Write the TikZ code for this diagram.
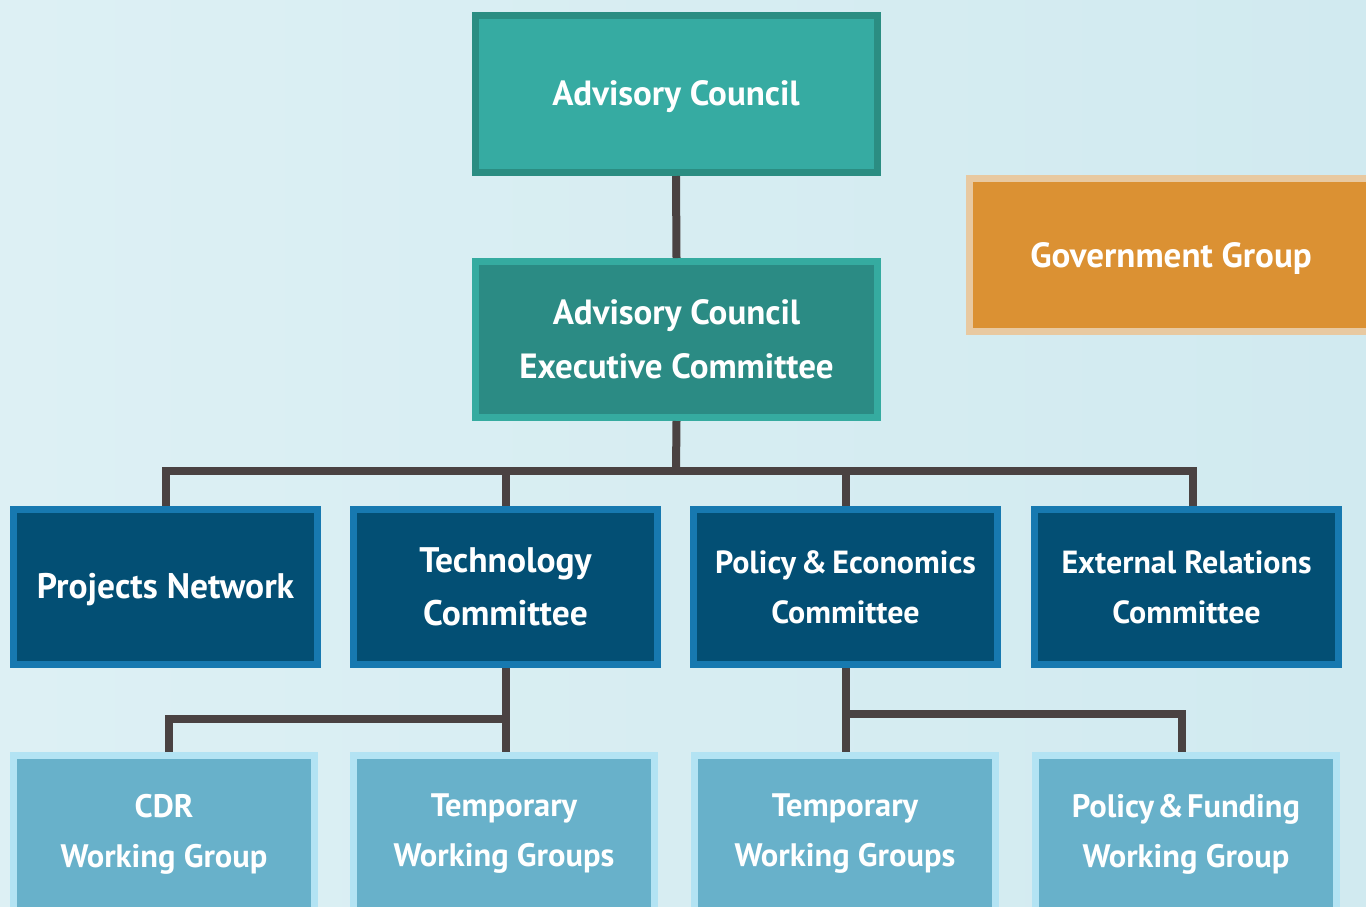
\documentclass[tikz,border=0pt]{standalone}
\usepackage{fontspec}
\setmainfont{PT Sans}
\usetikzlibrary{calc}
\definecolor{bgA}{HTML}{DDF0F4}
\definecolor{bgB}{HTML}{D1EAF0}
\definecolor{acBorder}{HTML}{2B8D82}
\definecolor{acFill}{HTML}{36ABA2}
\definecolor{ecBorder}{HTML}{35ABA0}
\definecolor{ecFill}{HTML}{2B8B84}
\definecolor{dkBorder}{HTML}{1779B0}
\definecolor{dkFill}{HTML}{034F74}
\definecolor{ltBorder}{HTML}{B3E3F3}
\definecolor{ltFill}{HTML}{68B1CA}
\definecolor{govBorder}{HTML}{E8C9A1}
\definecolor{govFill}{HTML}{DB9133}
\definecolor{connCol}{HTML}{4A4242}
\newcommand{\lowr}[1]{\raisebox{-3pt}[\height][\depth]{#1}}
\begin{document}
\begin{tikzpicture}[x=1pt,y=-1pt,
  box/.style={rectangle, line width=7pt, align=center, text=white, inner sep=0pt,
    font=\bfseries\fontsize{35}{54}\selectfont},
  acbox/.style={box, draw=acBorder, fill=acFill, minimum width=402pt, minimum height=157pt},
  ecbox/.style={box, draw=ecBorder, fill=ecFill, minimum width=402pt, minimum height=156pt},
  dkbox/.style={box, draw=dkBorder, fill=dkFill, minimum width=304pt, minimum height=155pt,
    font=\bfseries\fontsize{35.5}{53}\selectfont},
  dksmall/.style={font=\bfseries\fontsize{32}{50}\selectfont},
  ltbox/.style={box, draw=ltBorder, fill=ltFill, minimum width=301pt, minimum height=157pt,
    font=\bfseries\fontsize{32.5}{50}\selectfont},
  govbox/.style={box, draw=govBorder, fill=govFill, minimum width=403pt, minimum height=153pt},
  conn/.style={draw=connCol, line width=8pt}
]
\useasboundingbox (0,0) rectangle (1366,906);
\clip (0,0) rectangle (1366,906);
\shade[left color=bgA, right color=bgB] (0,0) rectangle (1366,906);

% nodes
\node[acbox] (ac) at (676,94) {\lowr{Advisory Council}};
\node[ecbox] (ec) at (676.5,339.5) {Advisory Council\\Executive Committee};
\node[govbox] (gov) at (1171,255) {\lowr{Government Group}};

\node[dkbox] (pn) at (165.5,587) {\lowr{Projects Network}};
\node[dkbox] (tc) at (505.5,587) {Technology\\Committee};
\node[dkbox, dksmall] (pe) at (845.5,587) {Policy \hspace{-3pt}\& \hspace{-3pt}Economics\\Committee};
\node[dkbox, dksmall] (er) at (1186.5,587) {External Relations\\Committee};

\node[ltbox] (cdr) at (164,834) {CDR\\Working Group};
\node[ltbox] (t1) at (504,834) {Temporary\\Working Groups};
\node[ltbox] (t2) at (845,834) {Temporary\\Working Groups};
\node[ltbox] (pf) at (1186,834) {Policy \hspace{-5pt}\& \hspace{-5pt}Funding\\Working Group};

% connectors
\coordinate (bus) at (676,471);
\coordinate (tj) at (505.5,719);
\coordinate (pj) at (845.5,714);
\draw[conn] (ac.south) -- (ec.north);
\draw[conn] (ec.south) -- (bus);
\draw[conn] (pn.north) |- (bus) -| ([xshift=6pt]er.north);
\draw[conn] (tc.north) -- (tc.north |- bus);
\draw[conn] (pe.north) -- (pe.north |- bus);
\draw[conn] (tc.south) -- (tc.south |- t1.north);
\draw[conn] ([xshift=5pt]cdr.north) |- (tj);
\draw[conn] (pe.south) -- (pe.south |- t2.north);
\draw[conn] (pj) -| ([xshift=-4pt]pf.north);
\end{tikzpicture}
\end{document}
